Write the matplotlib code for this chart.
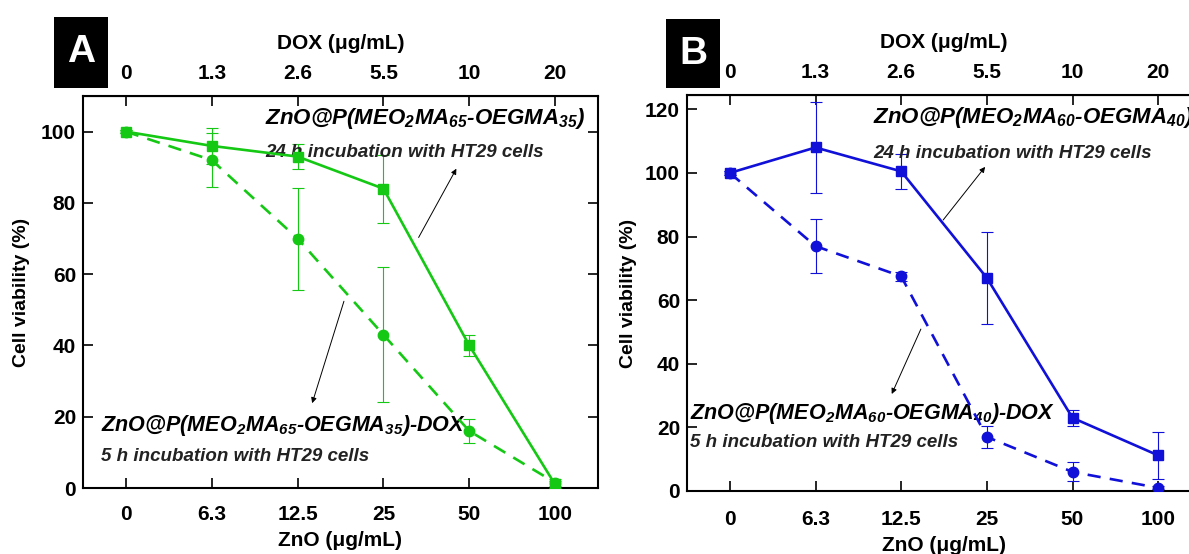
import matplotlib
matplotlib.use("Agg")
import matplotlib.pyplot as plt
from matplotlib.patches import Rectangle

# x categories (plotted at equal spacing)
zno_labels = ["0", "6.3", "12.5", "25", "50", "100"]
dox_labels = ["0", "1.3", "2.6", "5.5", "10", "20"]

# Panel A: ZnO@P(MEO2MA65-OEGMA35)
a_24h = [100, 96, 93, 84, 40, 1]
a_24h_err = [0.5, 5, 3.6, 9.5, 3, 1]
a_dox = [100, 92, 70, 43, 16, 1.5]
a_dox_err = [0.5, 7.5, 14.3, 19, 3.4, 1]

# Panel B: ZnO@P(MEO2MA60-OEGMA40)
b_24h = [100, 108, 100.5, 67, 23, 11.2]
b_24h_err = [0.5, 14.3, 5.6, 14.5, 2.5, 7.3]
b_dox = [100, 77, 67.5, 17, 6, 1]
b_dox_err = [0.5, 8.4, 1.5, 3.4, 3, 0.5]

W, H = 1189, 554
FONT = ["Liberation Sans", "DejaVu Sans"]

plt.rcParams["mathtext.fontset"] = "custom"
plt.rcParams["mathtext.rm"] = "Liberation Sans:italic:bold"
plt.rcParams["mathtext.it"] = "Liberation Sans:italic:bold"
plt.rcParams["mathtext.bf"] = "Liberation Sans:italic:bold"

fig = plt.figure(figsize=(W / 100, H / 100), dpi=100)


def fig_box(left, top, right, bottom):
    return [left / W, 1 - bottom / H, (right - left) / W, (bottom - top) / H]


def panel(rect, color, y24, e24, ydox, edox, ymax, yticks, sub, texts, letter, letter_box, xpad, ylpad):
    ax = fig.add_axes(rect)
    x = list(range(len(zno_labels)))
    ax.errorbar(x, y24, yerr=e24, color=color, lw=1.9, marker="s", ms=7,
                ecolor=color, elinewidth=0.8, capsize=4, capthick=0.8, zorder=3)
    ax.errorbar(x, ydox, yerr=edox, color=color, lw=1.9, ls=(0, (5, 3.5)), marker="o", ms=7.5,
                ecolor=color, elinewidth=0.8, capsize=4, capthick=0.8, zorder=3)
    ax.set_xlim(-0.5, 5.5)
    ax.set_ylim(0, ymax)
    ax.set_xticks(x)
    ax.set_xticklabels(zno_labels, fontfamily=FONT, fontweight="bold", fontsize=15)
    ax.set_yticks(yticks)
    ax.set_yticklabels([str(t) for t in yticks], fontfamily=FONT, fontweight="bold", fontsize=15)
    ax.tick_params(direction="in", length=7, width=1.2, right=True, pad=5)
    ax.tick_params(axis="x", pad=xpad)
    for s in ax.spines.values():
        s.set_linewidth(1.5)
    ax.set_xlabel("ZnO (μg/mL)", fontfamily=FONT, fontweight="bold", fontsize=15, labelpad=5)
    ax.set_ylabel("Cell viability (%)", fontfamily=FONT, fontweight="bold", fontsize=14, labelpad=ylpad)

    top = ax.secondary_xaxis("top")
    top.set_xticks(x)
    top.set_xticklabels(dox_labels, fontfamily=FONT, fontweight="bold", fontsize=15)
    top.tick_params(direction="in", length=7, width=1.2, pad=9)
    top.set_xlabel("DOX (μg/mL)", fontfamily=FONT, fontweight="bold", fontsize=15, labelpad=11)

    big = "ZnO@P(MEO$_2$MA$_{%s}$-OEGMA$_{%s}$)" % sub
    (t1x, t1y, t2y), (b1x, b1y, b2y), arr1, arr2 = texts
    kw = dict(fontfamily=FONT, fontweight="bold", style="italic", va="center", ha="left")
    ax.text(t1x, t1y, big, fontsize=16, clip_on=False, **kw)
    ax.text(t1x, t2y, "24 h incubation with HT29 cells", fontsize=13.5, color="#222222", **kw)
    ax.text(b1x, b1y, big + "-DOX", fontsize=15.5, **kw)
    ax.text(b1x, b2y, "5 h incubation with HT29 cells", fontsize=13.5, color="#222222", **kw)
    for (sx, sy), (tx, ty) in (arr1, arr2):
        ax.annotate("", xy=(tx, ty), xytext=(sx, sy),
                    arrowprops=dict(arrowstyle="-|>", color="black", lw=0.7,
                                    mutation_scale=8, shrinkA=0, shrinkB=0))

    l, t, r, b = letter_box
    fig.patches.append(Rectangle((l / W, 1 - b / H), (r - l) / W, (b - t) / H,
                                 transform=fig.transFigure, facecolor="black",
                                 edgecolor="none", zorder=5))
    fig.text((l + r) / 2 / W, 1 - (t + b) / 2 / H, letter, color="white", fontsize=28,
             fontweight="bold", fontfamily=FONT, ha="center", va="center", zorder=6)
    return ax


panel(fig_box(83, 96, 598, 488), "#14c814", a_24h, a_24h_err, a_dox, a_dox_err,
      110, [0, 20, 40, 60, 80, 100], ("65", "35"),
      ((1.62, 103.6, 94.1), (-0.29, 17.4, 8.7),
       ((3.41, 70.3), (3.85, 89.6)), ((2.54, 52.4), (2.17, 23.8))),
      "A", (54, 17, 108, 88), 12, 8)

panel(fig_box(687, 95, 1201, 491), "#1010d8", b_24h, b_24h_err, b_dox, b_dox_err,
      124.5, [0, 20, 40, 60, 80, 100, 120], ("60", "40"),
      ((1.67, 117.3, 106.0), (-0.47, 24.5, 15.1),
       ((2.49, 85.2), (2.98, 101.9)), ((2.23, 50.9), (1.89, 30.5))),
      "B", (666, 19, 720, 88), 14, 6)

fig.savefig("out.png", dpi=100)
